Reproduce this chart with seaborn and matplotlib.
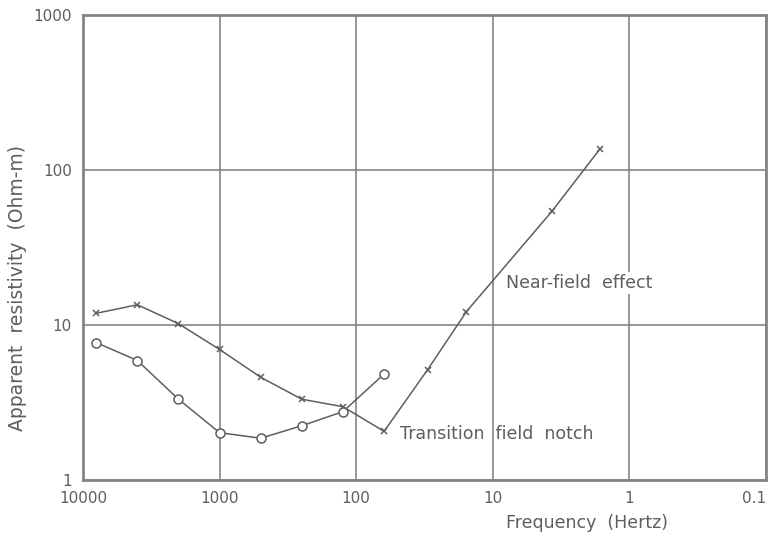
import matplotlib
matplotlib.use("Agg")
import matplotlib.pyplot as plt
from matplotlib.ticker import FixedLocator, FixedFormatter, NullLocator
import seaborn as sns
import pandas as pd

# Sounding curves: apparent resistivity against frequency
cross_freq = [8000, 4000, 2000, 1000, 500, 250, 125, 62.5, 30, 15.6, 3.7, 1.65]
cross_rho = [11.9, 13.5, 10.2, 6.95, 4.6, 3.32, 2.97, 2.06, 5.15, 12.2, 54, 136]

circle_freq = [8000, 4000, 2000, 1000, 500, 250, 125, 62.5]
circle_rho = [7.7, 5.9, 3.32, 2.02, 1.86, 2.24, 2.76, 4.83]

x_ticks = [10000, 1000, 100, 10, 1, 0.1]
x_tick_labels = ["10000", "1000", "100", "10", "1", "0.1"]
y_ticks = [1, 10, 100, 1000]
y_tick_labels = ["1", "10", "100", "1000"]

ink = "#5e5e5e"
grid_ink = "#858585"

sns.set_theme(style="white")
plt.rcParams["font.family"] = ["DejaVu Sans"]

fig = plt.figure(figsize=(7.68, 5.38), dpi=100)
ax = fig.add_axes([83 / 768, 58 / 538, 683 / 768, 465 / 538])
ax.set_xscale("log")
ax.set_yscale("log")

df_cross = pd.DataFrame({"freq": cross_freq, "rho": cross_rho})
df_circle = pd.DataFrame({"freq": circle_freq, "rho": circle_rho})

sns.lineplot(data=df_cross, x="freq", y="rho", sort=False, ax=ax,
             color=ink, linewidth=1.1, marker="x", markersize=5,
             markeredgewidth=1.1, markeredgecolor=ink)
sns.lineplot(data=df_circle, x="freq", y="rho", sort=False, ax=ax,
             color=ink, linewidth=1.1, marker="o", markersize=6.5,
             markerfacecolor="white", markeredgecolor=ink,
             markeredgewidth=1.1)

ax.set_xlim(10000, 0.1)
ax.set_ylim(1, 1000)

ax.xaxis.set_major_locator(FixedLocator(x_ticks))
ax.xaxis.set_major_formatter(FixedFormatter(x_tick_labels))
ax.yaxis.set_major_locator(FixedLocator(y_ticks))
ax.yaxis.set_major_formatter(FixedFormatter(y_tick_labels))
ax.xaxis.set_minor_locator(NullLocator())
ax.yaxis.set_minor_locator(NullLocator())

ax.grid(True, which="major", color=grid_ink, linewidth=1.2)
ax.tick_params(axis="both", length=0, labelsize=11, colors=ink, pad=8)
for side in ax.spines.values():
    side.set_color(grid_ink)
    side.set_linewidth(2.0)

# keep the last frequency label inside the figure's right edge
last_label = ax.get_xticklabels()[-1]
last_label.set_horizontalalignment("right")

ax.set_xlabel("")
ax.set_ylabel("")

ax.text(8.0, 18.7, "Near-field  effect", fontsize=12.5, color=ink,
        ha="left", va="center", zorder=5,
        bbox=dict(facecolor="white", edgecolor="none", pad=1.5))
ax.text(48, 1.98, "Transition  field  notch", fontsize=12.5, color=ink,
        ha="left", va="center")

fig.text(587 / 768, 1 - 523 / 538, "Frequency  (Hertz)", fontsize=12.5,
         color=ink, ha="center", va="center")
fig.text(18 / 768, 1 - 288 / 538, "Apparent  resistivity  (Ohm-m)",
         fontsize=13.5, color=ink, ha="center", va="center", rotation=90)

fig.savefig("out.png", dpi=100)
